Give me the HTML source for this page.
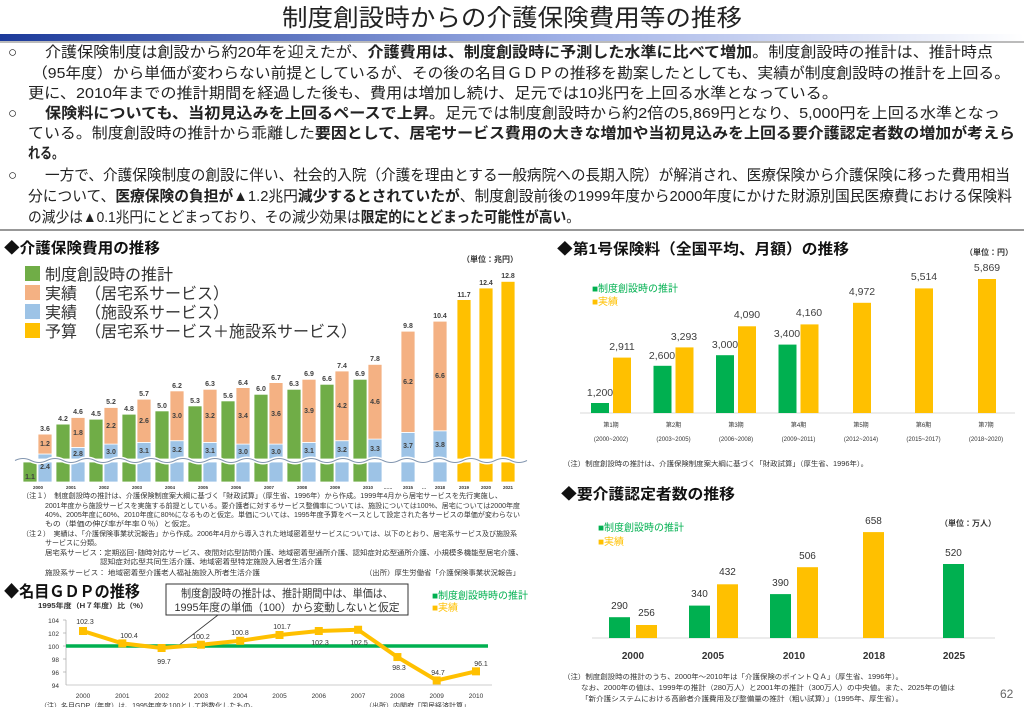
<!DOCTYPE html>
<html><head><meta charset="utf-8"><style>
html,body{margin:0;padding:0;background:#fff;}
svg{display:block;font-family:"Liberation Sans","Noto Sans CJK JP",sans-serif;}
</style></head><body>
<svg width="1024" height="707" viewBox="0 0 1024 707" xmlns="http://www.w3.org/2000/svg">
<defs><linearGradient id="bar" x1="0" x2="1"><stop offset="0" stop-color="#1c3a9a"/><stop offset="0.55" stop-color="#9fb0e6"/><stop offset="1" stop-color="#ffffff"/></linearGradient></defs>
<text x="512" y="26" text-anchor="middle" font-size="24" fill="#222" textLength="460" lengthAdjust="spacingAndGlyphs">制度創設時からの介護保険費用等の推移</text>
<rect x="0" y="34" width="1024" height="7" fill="url(#bar)"/>
<line x1="0" y1="42" x2="1024" y2="42" stroke="#777" stroke-width="1"/>
<g font-size="15" fill="#222">
<text x="8" y="57">○</text>
<text x="45" y="57" textLength="948" lengthAdjust="spacingAndGlyphs">介護保険制度は創設から約20年を迎えたが、<tspan font-weight="bold">介護費用は、制度創設時に予測した水準に比べて増加</tspan>。制度創設時の推計は、推計時点</text>
<text x="32" y="78" textLength="978" lengthAdjust="spacingAndGlyphs">（95年度）から単価が変わらない前提としているが、その後の名目ＧＤＰの推移を勘案したとしても、実績が制度創設時の推計を上回る。</text>
<text x="28" y="98" textLength="810" lengthAdjust="spacingAndGlyphs">更に、2010年までの推計期間を経過した後も、費用は増加し続け、足元では10兆円を上回る水準となっている。</text>
<text x="8" y="118">○</text>
<text x="45" y="118" textLength="955" lengthAdjust="spacingAndGlyphs"><tspan font-weight="bold">保険料についても、当初見込みを上回るペースで上昇</tspan>。足元では制度創設時から約2倍の5,869円となり、5,000円を上回る水準となっ</text>
<text x="28" y="138" textLength="987" lengthAdjust="spacingAndGlyphs">ている。制度創設時の推計から乖離した<tspan font-weight="bold">要因として、居宅サービス費用の大きな増加や当初見込みを上回る要介護認定者数の増加が考えら</tspan></text>
<text x="28" y="158" font-weight="bold" textLength="36" lengthAdjust="spacingAndGlyphs">れる。</text>
<text x="8" y="180">○</text>
<text x="45" y="180" textLength="965" lengthAdjust="spacingAndGlyphs">一方で、介護保険制度の創設に伴い、社会的入院（介護を理由とする一般病院への長期入院）が解消され、医療保険から介護保険に移った費用相当</text>
<text x="28" y="201" textLength="984" lengthAdjust="spacingAndGlyphs">分について、<tspan font-weight="bold">医療保険の負担が▲</tspan>1.2兆円<tspan font-weight="bold">減少するとされていたが</tspan>、制度創設前後の1999年度から2000年度にかけた財源別国民医療費における保険料</text>
<text x="28" y="222" textLength="552" lengthAdjust="spacingAndGlyphs">の減少は<tspan font-weight="bold">▲</tspan>0.1兆円にとどまっており、その減少効果は<tspan font-weight="bold">限定的にとどまった可能性が高い</tspan>。</text>
</g>
<line x1="0" y1="230" x2="1024" y2="230" stroke="#777" stroke-width="1.5"/>

<!-- Left chart -->
<text x="4" y="253" font-size="15" font-weight="bold" fill="#111" textLength="156" lengthAdjust="spacingAndGlyphs">◆介護保険費用の推移</text>
<text x="462" y="262" font-size="8" font-weight="bold" fill="#333">（単位：兆円）</text>
<rect x="25" y="266" width="15" height="15" fill="#70ad47"/>
<rect x="25" y="285" width="15" height="15" fill="#f4b183"/>
<rect x="25" y="304" width="15" height="15" fill="#9dc3e6"/>
<rect x="25" y="323" width="15" height="15" fill="#ffc000"/>
<g font-size="16" fill="#333">
<text x="45" y="280">制度創設時の推計</text>
<text x="45" y="299">実績　（居宅系サービス）</text>
<text x="45" y="318">実績　（施設系サービス）</text>
<text x="45" y="337">予算　（居宅系サービス＋施設系サービス）</text>
</g>
<g stroke="#fff" stroke-width="0.8">
<!-- lower segments -->
<g fill="#70ad47">
<rect x="23" y="462" width="14" height="20"/><rect x="56" y="462" width="14" height="20"/><rect x="89" y="462" width="14" height="20"/><rect x="122" y="462" width="14" height="20"/><rect x="155" y="462" width="14" height="20"/><rect x="188" y="462" width="14" height="20"/><rect x="221" y="462" width="14" height="20"/><rect x="254" y="462" width="14" height="20"/><rect x="287" y="462" width="14" height="20"/><rect x="320" y="462" width="14" height="20"/><rect x="353" y="462" width="14" height="20"/>
<rect x="56" y="424.1" width="14" height="34.9"/><rect x="89" y="419.2" width="14" height="39.8"/><rect x="122" y="414.2" width="14" height="44.8"/><rect x="155" y="410.9" width="14" height="48.1"/><rect x="188" y="405.9" width="14" height="53.1"/><rect x="221" y="400.9" width="14" height="58.1"/><rect x="254" y="394.3" width="14" height="64.7"/><rect x="287" y="389.3" width="14" height="69.7"/><rect x="320" y="384.3" width="14" height="74.7"/><rect x="353" y="379.3" width="14" height="79.7"/>
</g>
<g fill="#9dc3e6">
<rect x="38" y="462" width="14" height="20"/><rect x="71" y="462" width="14" height="20"/><rect x="104" y="462" width="14" height="20"/><rect x="137" y="462" width="14" height="20"/><rect x="170" y="462" width="14" height="20"/><rect x="203" y="462" width="14" height="20"/><rect x="236" y="462" width="14" height="20"/><rect x="269" y="462" width="14" height="20"/><rect x="302" y="462" width="14" height="20"/><rect x="335" y="462" width="14" height="20"/><rect x="368" y="462" width="14" height="20"/><rect x="401" y="462" width="14" height="20"/><rect x="433" y="462" width="14" height="20"/>
<rect x="38" y="454" width="14" height="5"/><rect x="71" y="447.4" width="14" height="11.6"/><rect x="104" y="444.1" width="14" height="14.9"/><rect x="137" y="442.4" width="14" height="16.6"/><rect x="170" y="440.7" width="14" height="18.3"/><rect x="203" y="442.4" width="14" height="16.6"/><rect x="236" y="444.1" width="14" height="14.9"/><rect x="269" y="444.1" width="14" height="14.9"/><rect x="302" y="442.4" width="14" height="16.6"/><rect x="335" y="440.7" width="14" height="18.3"/><rect x="368" y="439.1" width="14" height="19.9"/><rect x="401" y="432.4" width="14" height="26.6"/><rect x="433" y="430.8" width="14" height="28.2"/>
</g>
<g fill="#f4b183">
<rect x="38" y="434.1" width="14" height="19.9"/><rect x="71" y="417.5" width="14" height="29.9"/><rect x="104" y="407.5" width="14" height="36.6"/><rect x="137" y="399.2" width="14" height="43.2"/><rect x="170" y="390.9" width="14" height="49.8"/><rect x="203" y="389.3" width="14" height="53.1"/><rect x="236" y="387.6" width="14" height="56.5"/><rect x="269" y="382.6" width="14" height="61.5"/><rect x="302" y="379.3" width="14" height="63.1"/><rect x="335" y="371" width="14" height="69.7"/><rect x="368" y="364.4" width="14" height="74.7"/><rect x="401" y="331.2" width="14" height="101.2"/><rect x="433" y="321.2" width="14" height="109.6"/>
</g>
<g fill="#ffc000">
<rect x="457" y="462" width="14" height="20"/><rect x="479" y="462" width="14" height="20"/><rect x="501" y="462" width="14" height="20"/>
<rect x="457" y="299.6" width="14" height="159.4"/><rect x="479" y="288" width="14" height="171"/><rect x="501" y="281.4" width="14" height="177.6"/>
</g>
</g>
<path d="M15 460.5 q8 -4 16 0 t16 0 t16 0 t16 0 t16 0 t16 0 t16 0 t16 0 t16 0 t16 0 t16 0 t16 0 t16 0 t16 0 t16 0 t16 0 t16 0 t16 0 t16 0 t16 0 t16 0 t16 0 t16 0 t16 0 t16 0 t16 0 t16 0 t16 0 t16 0 t16 0 t16 0 t16 0" fill="none" stroke="#fff" stroke-width="4"/>
<path d="M15 460.5 q8 -4 16 0 t16 0 t16 0 t16 0 t16 0 t16 0 t16 0 t16 0 t16 0 t16 0 t16 0 t16 0 t16 0 t16 0 t16 0 t16 0 t16 0 t16 0 t16 0 t16 0 t16 0 t16 0 t16 0 t16 0 t16 0 t16 0 t16 0 t16 0 t16 0 t16 0 t16 0 t16 0" fill="none" stroke="#8497b0" stroke-width="1"/>
<g font-size="7" font-weight="bold" fill="#404040" text-anchor="middle">
<text x="30" y="479">1.1</text><text x="45" y="469">2.4</text>
<text x="45" y="431">3.6</text><text x="45" y="446">1.2</text>
<text x="63" y="421">4.2</text><text x="78" y="414">4.6</text><text x="78" y="435">1.8</text><text x="78" y="456">2.8</text>
<text x="96" y="416">4.5</text><text x="111" y="404">5.2</text><text x="111" y="428">2.2</text><text x="111" y="454">3.0</text>
<text x="129" y="411">4.8</text><text x="144" y="396">5.7</text><text x="144" y="423">2.6</text><text x="144" y="453">3.1</text>
<text x="162" y="408">5.0</text><text x="177" y="388">6.2</text><text x="177" y="418">3.0</text><text x="177" y="452">3.2</text>
<text x="195" y="403">5.3</text><text x="210" y="386">6.3</text><text x="210" y="418">3.2</text><text x="210" y="453">3.1</text>
<text x="228" y="398">5.6</text><text x="243" y="385">6.4</text><text x="243" y="418">3.4</text><text x="243" y="454">3.0</text>
<text x="261" y="391">6.0</text><text x="276" y="380">6.7</text><text x="276" y="416">3.6</text><text x="276" y="454">3.0</text>
<text x="294" y="386">6.3</text><text x="309" y="376">6.9</text><text x="309" y="413">3.9</text><text x="309" y="453">3.1</text>
<text x="327" y="381">6.6</text><text x="342" y="368">7.4</text><text x="342" y="408">4.2</text><text x="342" y="452">3.2</text>
<text x="360" y="376">6.9</text><text x="375" y="361">7.8</text><text x="375" y="404">4.6</text><text x="375" y="451">3.3</text>
<text x="408" y="328">9.8</text><text x="408" y="384">6.2</text><text x="408" y="448">3.7</text>
<text x="440" y="318">10.4</text><text x="440" y="378">6.6</text><text x="440" y="447">3.8</text>
<text x="464" y="297">11.7</text><text x="486" y="285">12.4</text><text x="508" y="278">12.8</text>
</g>
<g font-size="4.5" font-weight="bold" fill="#333" text-anchor="middle">
<text x="38" y="489">2000</text><text x="71" y="489">2001</text><text x="104" y="489">2002</text><text x="137" y="489">2003</text><text x="170" y="489">2004</text><text x="203" y="489">2005</text><text x="236" y="489">2006</text><text x="269" y="489">2007</text><text x="302" y="489">2008</text><text x="335" y="489">2009</text><text x="368" y="489">2010</text><text x="388" y="489">……</text><text x="408" y="489">2015</text><text x="424" y="489">…</text><text x="440" y="489">2018</text><text x="464" y="489">2019</text><text x="486" y="489">2020</text><text x="508" y="489">2021</text>
</g>
<g font-size="7" fill="#333">
<text x="22" y="498" textLength="480" lengthAdjust="spacingAndGlyphs">（注１）　制度創設時の推計は、介護保険制度案大綱に基づく「財政試算」（厚生省、1996年）から作成。1999年4月から居宅サービスを先行実施し、</text>
<text x="45" y="508" textLength="475" lengthAdjust="spacingAndGlyphs">2001年度から施設サービスを実施する前提としている。要介護者に対するサービス整備率については、施設については100%、居宅については2000年度</text>
<text x="45" y="517" textLength="475" lengthAdjust="spacingAndGlyphs">40%、2005年度に60%、2010年度に80%になるものと仮定。単価については、1995年度予算をベースとして設定された各サービスの単価が変わらない</text>
<text x="45" y="526" textLength="150" lengthAdjust="spacingAndGlyphs">もの（単価の伸び率が年率０％）と仮定。</text>
<text x="22" y="536" textLength="495" lengthAdjust="spacingAndGlyphs">（注２）　実績は、「介護保険事業状況報告」から作成。2006年4月から導入された地域密着型サービスについては、以下のとおり、居宅系サービス及び施設系</text>
<text x="45" y="545">サービスに分類。</text>
<text x="45" y="555" textLength="478" lengthAdjust="spacingAndGlyphs">居宅系サービス：定期巡回･随時対応サービス、夜間対応型訪問介護、地域密着型通所介護、認知症対応型通所介護、小規模多機能型居宅介護、</text>
<text x="100" y="564" textLength="222" lengthAdjust="spacingAndGlyphs">認知症対応型共同生活介護、地域密着型特定施設入居者生活介護</text>
<text x="45" y="575" textLength="215" lengthAdjust="spacingAndGlyphs">施設系サービス： 地域密着型介護老人福祉施設入所者生活介護</text>
<text x="365" y="575" textLength="155" lengthAdjust="spacingAndGlyphs">（出所）厚生労働省「介護保険事業状況報告」</text>
</g>

<!-- GDP -->
<text x="4" y="597" font-size="16" font-weight="bold" fill="#111" textLength="136" lengthAdjust="spacingAndGlyphs">◆名目ＧＤＰの推移</text>
<text x="38" y="608" font-size="7" font-weight="bold" fill="#333" textLength="110" lengthAdjust="spacingAndGlyphs">1995年度（H７年度）比（%）</text>
<rect x="166" y="584" width="242" height="31" fill="#fff" stroke="#333" stroke-width="1"/>
<text x="287" y="597" font-size="11" fill="#333" text-anchor="middle" textLength="212" lengthAdjust="spacingAndGlyphs">制度創設時の推計は、推計期間中は、単価は、</text>
<text x="287" y="611" font-size="11" fill="#333" text-anchor="middle" textLength="225" lengthAdjust="spacingAndGlyphs">1995年度の単価（100）から変動しないと仮定</text>
<line x1="218" y1="615" x2="178" y2="646" stroke="#333" stroke-width="0.8"/>
<text x="432" y="599" font-size="10" fill="#00b050">■制度創設時時の推計</text>
<text x="432" y="611" font-size="10" fill="#ffc000">■実績</text>
<g font-size="6.5" fill="#333" text-anchor="end">
<text x="59" y="623">104</text><text x="59" y="636">102</text><text x="59" y="649">100</text><text x="59" y="662">98</text><text x="59" y="675">96</text><text x="59" y="688">94</text>
</g>
<g stroke="#999" stroke-width="0.6">
<line x1="66" y1="620" x2="66" y2="685"/><line x1="66" y1="685" x2="492" y2="685"/>
<line x1="63" y1="620" x2="66" y2="620"/><line x1="63" y1="633" x2="66" y2="633"/><line x1="63" y1="646" x2="66" y2="646"/><line x1="63" y1="659" x2="66" y2="659"/><line x1="63" y1="672" x2="66" y2="672"/>
</g>
<line x1="66" y1="646" x2="488" y2="646" stroke="#00b050" stroke-width="3.5"/>
<polyline points="83,631 122.3,643.4 161.6,648 200.9,644.7 240.2,640.8 279.5,635 318.8,631 358.1,629.75 397.4,657.05 436.7,680.45 476,671.35" fill="none" stroke="#ffc000" stroke-width="4"/>
<g fill="#ffc000">
<rect x="79" y="627" width="8" height="8"/><rect x="118.3" y="639.4" width="8" height="8"/><rect x="157.6" y="644" width="8" height="8"/><rect x="196.9" y="640.7" width="8" height="8"/><rect x="236.2" y="636.8" width="8" height="8"/><rect x="275.5" y="631" width="8" height="8"/><rect x="314.8" y="627" width="8" height="8"/><rect x="354.1" y="625.75" width="8" height="8"/><rect x="393.4" y="653.05" width="8" height="8"/><rect x="432.7" y="676.45" width="8" height="8"/><rect x="472" y="667.35" width="8" height="8"/>
</g>
<g font-size="7" fill="#333" text-anchor="middle">
<text x="85" y="624">102.3</text><text x="129" y="638">100.4</text><text x="164" y="664">99.7</text><text x="201" y="639">100.2</text><text x="240" y="635">100.8</text><text x="282" y="629">101.7</text><text x="320" y="645">102.3</text><text x="359" y="645">102.5</text><text x="399" y="670">98.3</text><text x="438" y="675">94.7</text><text x="481" y="666">96.1</text>
</g>
<g font-size="6.5" fill="#333" text-anchor="middle">
<text x="83" y="698">2000</text><text x="122.3" y="698">2001</text><text x="161.6" y="698">2002</text><text x="200.9" y="698">2003</text><text x="240.2" y="698">2004</text><text x="279.5" y="698">2005</text><text x="318.8" y="698">2006</text><text x="358.1" y="698">2007</text><text x="397.4" y="698">2008</text><text x="436.7" y="698">2009</text><text x="476" y="698">2010</text>
</g>
<text x="40" y="708" font-size="7" fill="#333">（注）名目GDP（年度）は、1995年度を100として指数化したもの。</text>
<text x="365" y="708" font-size="7" fill="#333">（出所）内閣府「国民経済計算」</text>

<!-- Right chart 1 -->
<text x="557" y="254" font-size="15" font-weight="bold" fill="#111" textLength="292" lengthAdjust="spacingAndGlyphs">◆第1号保険料（全国平均、月額）の推移</text>
<text x="965" y="255" font-size="8" font-weight="bold" fill="#333">（単位：円）</text>
<text x="592" y="292" font-size="10" fill="#00b050">■制度創設時の推計</text>
<text x="592" y="305" font-size="10" fill="#ffc000">■実績</text>
<line x1="580" y1="413" x2="1015" y2="413" stroke="#d9d9d9" stroke-width="1"/>
<g fill="#00b050">
<rect x="591" y="403" width="18" height="10"/><rect x="653.5" y="365.8" width="18" height="47.2"/><rect x="716" y="355.2" width="18" height="57.8"/><rect x="778.5" y="344.6" width="18" height="68.4"/>
</g>
<g fill="#ffc000">
<rect x="613" y="357.6" width="18" height="55.4"/><rect x="675.5" y="347.4" width="18" height="65.6"/><rect x="738" y="326.3" width="18" height="86.7"/><rect x="800.5" y="324.4" width="18" height="88.6"/><rect x="853" y="302.8" width="18" height="110.2"/><rect x="915" y="288.4" width="18" height="124.6"/><rect x="978" y="279" width="18" height="134"/>
</g>
<g font-size="10.5" fill="#404040" text-anchor="middle">
<text x="600" y="396">1,200</text><text x="622" y="350">2,911</text><text x="662" y="359">2,600</text><text x="684" y="340">3,293</text><text x="725" y="348">3,000</text><text x="747" y="318">4,090</text><text x="787" y="337">3,400</text><text x="809" y="316">4,160</text><text x="862" y="295">4,972</text><text x="924" y="280">5,514</text><text x="987" y="271">5,869</text>
</g>
<g font-size="6" fill="#333" text-anchor="middle">
<text x="611" y="427">第1期</text><text x="673.5" y="427">第2期</text><text x="736" y="427">第3期</text><text x="798.5" y="427">第4期</text><text x="861" y="427">第5期</text><text x="923.5" y="427">第6期</text><text x="986" y="427">第7期</text>
<text x="611" y="441">(2000~2002)</text><text x="673.5" y="441">(2003~2005)</text><text x="736" y="441">(2006~2008)</text><text x="798.5" y="441">(2009~2011)</text><text x="861" y="441">(2012~2014)</text><text x="923.5" y="441">(2015~2017)</text><text x="986" y="441">(2018~2020)</text>
</g>
<text x="563" y="466" font-size="7" fill="#333" textLength="305" lengthAdjust="spacingAndGlyphs">（注）制度創設時の推計は、介護保険制度案大綱に基づく「財政試算」（厚生省、1996年）。</text>

<!-- Right chart 2 -->
<text x="561" y="499" font-size="15" font-weight="bold" fill="#111" textLength="174" lengthAdjust="spacingAndGlyphs">◆要介護認定者数の推移</text>
<text x="940" y="526" font-size="8" font-weight="bold" fill="#333">（単位：万人）</text>
<text x="598" y="531" font-size="10" fill="#00b050">■制度創設時の推計</text>
<text x="598" y="545" font-size="10" fill="#ffc000">■実績</text>
<line x1="592" y1="638" x2="995" y2="638" stroke="#d9d9d9" stroke-width="1"/>
<g fill="#00b050">
<rect x="609" y="617.2" width="21" height="20.8"/><rect x="689" y="605.6" width="21" height="32.4"/><rect x="770" y="594.1" width="21" height="43.9"/><rect x="943" y="564" width="21" height="74"/>
</g>
<g fill="#ffc000">
<rect x="636" y="625" width="21" height="13"/><rect x="717" y="584.3" width="21" height="53.7"/><rect x="797" y="567.2" width="21" height="70.8"/><rect x="863" y="532.1" width="21" height="105.9"/>
</g>
<g font-size="10" fill="#333" text-anchor="middle">
<text x="619.5" y="609">290</text><text x="646.5" y="616">256</text><text x="699.5" y="597">340</text><text x="727.5" y="575">432</text><text x="780.5" y="586">390</text><text x="807.5" y="559">506</text><text x="873.5" y="524">658</text><text x="953.5" y="556">520</text>
</g>
<g font-size="10" font-weight="bold" fill="#333" text-anchor="middle">
<text x="633" y="659">2000</text><text x="713" y="659">2005</text><text x="794" y="659">2010</text><text x="874" y="659">2018</text><text x="954" y="659">2025</text>
</g>
<g font-size="7" fill="#333">
<text x="563" y="679" textLength="340" lengthAdjust="spacingAndGlyphs">（注）制度創設時の推計のうち、2000年～2010年は「介護保険のポイントＱＡ」（厚生省、1996年）。</text>
<text x="581" y="690" textLength="374" lengthAdjust="spacingAndGlyphs">なお、2000年の値は、1999年の推計（280万人）と2001年の推計（300万人）の中央値。また、2025年の値は</text>
<text x="581" y="701" textLength="322" lengthAdjust="spacingAndGlyphs">「新介護システムにおける高齢者介護費用及び整備量の推計（粗い試算）」（1995年、厚生省）。</text>
</g>
<text x="1000" y="698" font-size="12" fill="#666">62</text>
</svg>
</body></html>
